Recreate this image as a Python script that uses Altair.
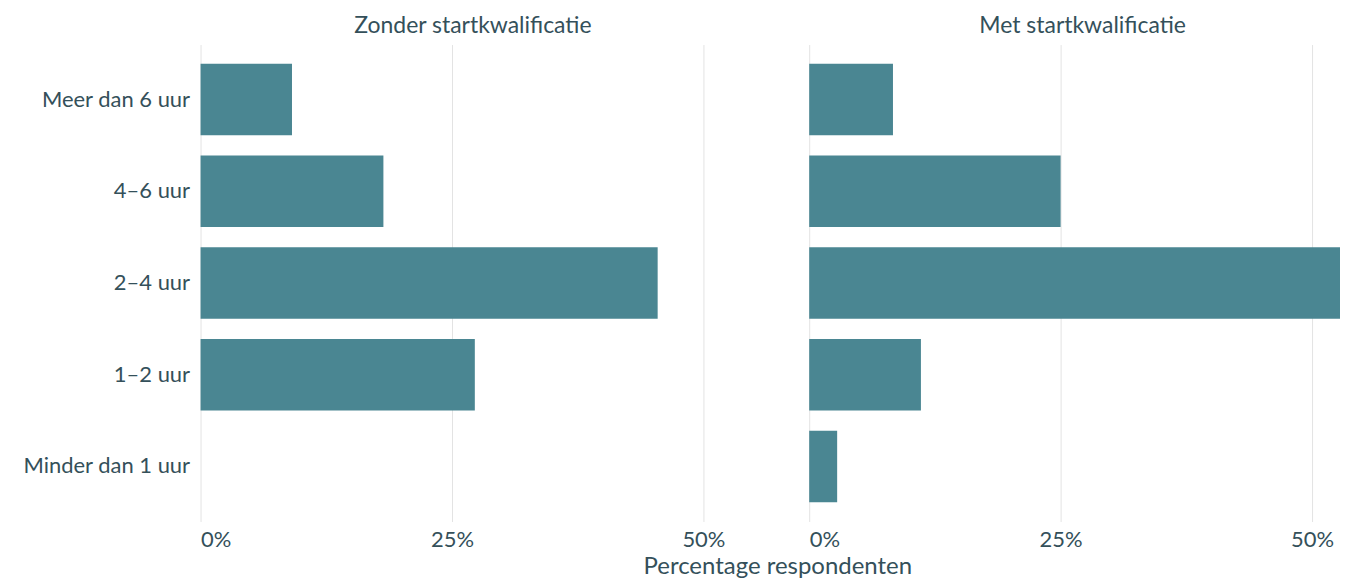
import altair as alt
import pandas as pd

categories = ["Meer dan 6 uur", "4–6 uur", "2–4 uur", "1–2 uur", "Minder dan 1 uur"]
zonder = [0.0909, 0.1818, 0.4545, 0.2727, 0.0]
met = [0.0833, 0.25, 0.5278, 0.1111, 0.0278]
panels = ["Zonder startkwalificatie", "Met startkwalificatie"]
tick_values = [0, 0.25, 0.5]

df = pd.DataFrame({
    "cat": categories * 2,
    "pct": zonder + met,
    "groep": [panels[0]] * 5 + [panels[1]] * 5,
})

FONT = "Lato"
TXT = "#34505a"
BAR = "#4a8692"

yscale = alt.Scale(domain=categories, paddingInner=0.22, paddingOuter=0.21)


def panel(name, width, dmax, show_y, title_dx, show_title):
    xaxis = alt.Axis(
        values=tick_values, format=".0%", grid=True, gridColor="#e3e3e3",
        gridWidth=1, domain=False, ticks=False, labelPadding=8,
        labelFontSize=22, labelColor=TXT, labelFont=FONT,
        title="Percentage respondenten" if show_title else None,
        titleFont=FONT, titleFontSize=24, titleFontWeight="normal",
        titleColor=TXT, titleX=578, titleY=52, titleAlign="center",
        titleBaseline="alphabetic",
    )
    if show_y:
        yaxis = alt.Axis(
            title=None, domain=False, ticks=False, labelPadding=11,
            labelFontSize=22, labelColor=TXT, labelFont=FONT,
            minExtent=193, maxExtent=193,
        )
    else:
        yaxis = None
    return (
        alt.Chart(df)
        .transform_filter(alt.datum.groep == name)
        .mark_bar(color=BAR)
        .encode(
            x=alt.X("pct:Q", scale=alt.Scale(domain=[0, dmax], nice=False, zero=True),
                    axis=xaxis),
            y=alt.Y("cat:N", scale=yscale, axis=yaxis, sort=categories),
        )
        .properties(
            width=width, height=478,
            title=alt.TitleParams(name, font=FONT, fontSize=23, fontWeight="normal",
                                  color=TXT, offset=7, dx=title_dx),
        )
    )


left = panel(panels[0], 544, 0.5397, True, 1, True)
right = panel(panels[1], 532, 0.5278, False, 8, False)

chart = (
    alt.hconcat(left, right, spacing=66, bounds="flush")
    .resolve_scale(x="independent", y="independent")
    .properties(padding={"left": 0, "top": 6, "right": 0, "bottom": 0})
    .configure(background="white")
    .configure_view(strokeWidth=0, stroke="transparent")
)

chart.save("out.html", embed_options={"renderer": "svg", "actions": False})
